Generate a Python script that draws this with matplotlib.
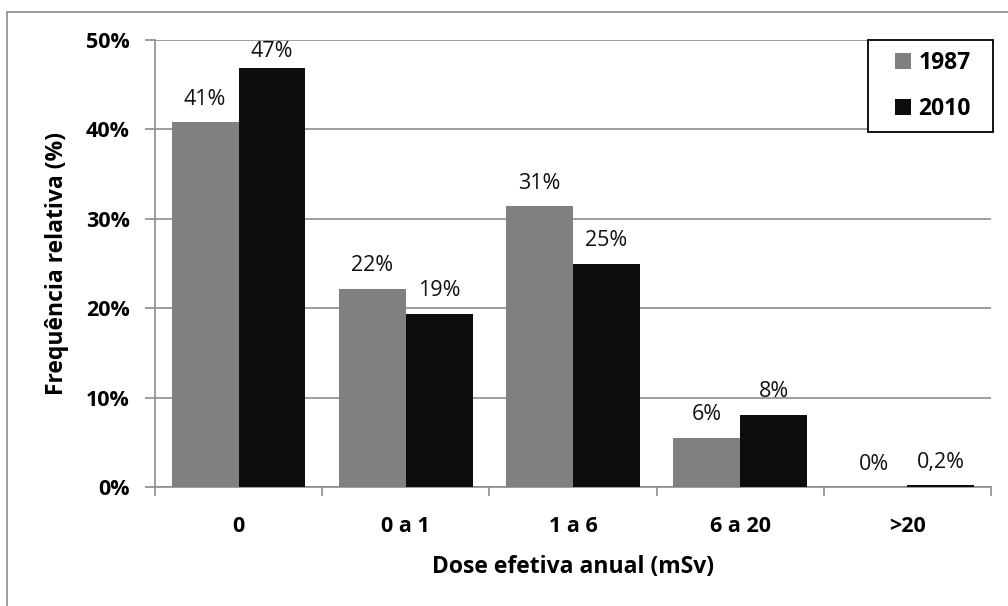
import matplotlib
matplotlib.use("Agg")
import matplotlib.pyplot as plt
from matplotlib.patches import Rectangle
import numpy as np

categories = ["0", "0 a 1", "1 a 6", "6 a 20", ">20"]
series_names = ["1987", "2010"]
values_1987 = [40.8, 22.2, 31.4, 5.5, 0.0]
values_2010 = [46.9, 19.4, 25.0, 8.1, 0.2]
y_ticks = [0, 10, 20, 30, 40, 50]

plt.rcParams["font.family"] = ["Open Sans", "DejaVu Sans"]

W, H = 1008, 606
fig = plt.figure(figsize=(W / 100, H / 100), dpi=100)
ax = fig.add_axes([155 / W, 1 - 487 / H, (991 - 155) / W, (487 - 40) / H])

GRID = "#8c8c8c"

# outer chart-area border (right and bottom edges run off the canvas)
fig.patches.append(Rectangle((7 / W, -0.05), 1.2, 1 - 12 / H + 0.05,
                             transform=fig.transFigure, fill=False,
                             edgecolor=GRID, linewidth=1.2))

x = np.arange(len(categories))
bw = 0.4
colors = ["#808080", "#0d0d0d"]
b1 = ax.bar(x - bw / 2, values_1987, bw, color=colors[0], label=series_names[0], zorder=3)
b2 = ax.bar(x + bw / 2, values_2010, bw, color=colors[1], label=series_names[1], zorder=3)

YMAX = 50


def fmt(v):
    if v != 0 and abs(v) < 1:
        return f"{v:.1f}".replace(".", ",") + "%"
    return f"{v:.0f}%"


for bars, vals in ((b1, values_1987), (b2, values_2010)):
    for rect, v in zip(bars, vals):
        cx = rect.get_x() + rect.get_width() / 2
        if v > YMAX - 5:
            # keep the label inside the plot area
            ax.annotate(fmt(v), (cx, YMAX), xytext=(0, -1), textcoords="offset points",
                        ha="center", va="top", fontsize=15.5, color="#111111")
        else:
            ax.annotate(fmt(v), (cx, v), xytext=(0, 9), textcoords="offset points",
                        ha="center", va="bottom", fontsize=15.5, color="#111111")

ax.set_xlim(-0.5, len(categories) - 0.5)
ax.set_ylim(0, YMAX)
ax.set_yticks(y_ticks)
ax.set_yticklabels([f"{t}%" for t in y_ticks], fontsize=15.5, fontweight="bold")
ax.set_xticks(x)
ax.set_xticklabels(categories, fontsize=15.5, fontweight="bold")
ax.tick_params(axis="x", length=0, pad=21)
ax.tick_params(axis="y", length=7, width=1.2, color=GRID, pad=11)
# tick marks on the category boundaries
ax.set_xticks(np.arange(-0.5, len(categories)), minor=True)
ax.tick_params(axis="x", which="minor", length=6.5, width=1.2, color=GRID)

ax.grid(axis="y", color=GRID, linewidth=1.2, zorder=0)
ax.set_axisbelow(True)
for s in ("top", "right"):
    ax.spines[s].set_visible(False)
for s in ("left", "bottom"):
    ax.spines[s].set_color(GRID)
    ax.spines[s].set_linewidth(1.2)

ax.set_ylabel("Frequência relativa (%)", fontsize=16.5, fontweight="bold", labelpad=12)
ax.set_xlabel("Dose efetiva anual (mSv)", fontsize=16.5, fontweight="bold", labelpad=13)

# legend: black frame drawn as a box, entries centred inside
fig.patches.append(Rectangle((868 / W, 1 - 132 / H), 125 / W, 92 / H,
                             transform=fig.transFigure, fill=True, facecolor="white",
                             edgecolor="black", linewidth=1.3, zorder=5))
leg = fig.legend(handles=[b1, b2], labels=series_names, loc="center",
                 bbox_to_anchor=(933 / W, 1 - 86 / H), frameon=False,
                 prop={"weight": "bold", "size": 16.5},
                 handlelength=0.7, handleheight=0.7, handletextpad=0.3,
                 labelspacing=0.95, borderpad=0, borderaxespad=0)
leg.set_zorder(6)

fig.savefig("out.png", dpi=100)
